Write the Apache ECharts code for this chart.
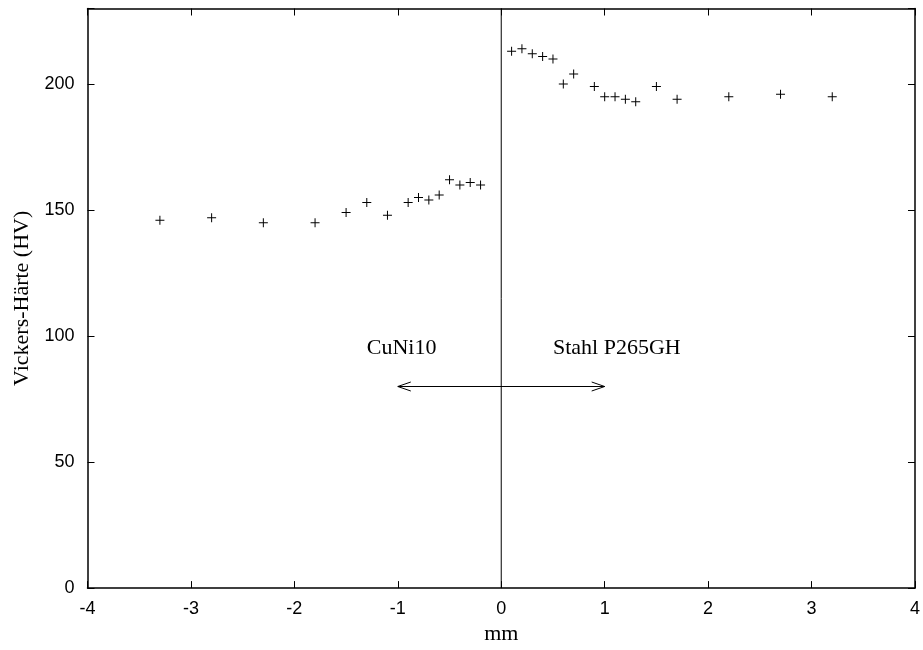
<!DOCTYPE html>
<html><head><meta charset="utf-8">
<script src="https://cdn.jsdelivr.net/npm/echarts@6/dist/echarts.min.js"></script>
<style>html,body{margin:0;padding:0;background:#fff}#c{width:923px;height:650px}</style>
</head><body><div id="c"></div>
<script>
var cuniX = [-3.3,-2.8,-2.3,-1.8,-1.5,-1.3,-1.1,-0.9,-0.8,-0.7,-0.6,-0.5,-0.4,-0.3,-0.2];
var cuniY = [146,147,145,145,149,153,148,153,155,154,156,162,160,161,160];
var stahlX = [0.1,0.2,0.3,0.4,0.5,0.6,0.7,0.9,1.0,1.1,1.2,1.3,1.5,1.7,2.2,2.7,3.2];
var stahlY = [213,214,212,211,210,200,204,199,195,195,194,193,199,194,195,196,195];
var xTicks = [-4,-3,-2,-1,0,1,2,3,4];
var yTicks = [0,50,100,150,200];
var arrowFrom = [-1,80], arrowTo = [1,80];
var labelNames = ['CuNi10','Stahl P265GH'];
var labelX = [-1.3, 0.5];
var labelY = [95, 95];

var pts = [];
cuniX.forEach(function(x,i){pts.push([x,cuniY[i]]);});
stahlX.forEach(function(x,i){pts.push([x,stahlY[i]]);});

var plus = 'path://M4,0h1v4h4v1h-4v4h-1v-4h-4v-1h4z';
var sans = 'Liberation Sans', serif = 'Liberation Serif';
var chart = echarts.init(document.getElementById('c'), null, {renderer:'canvas'});
chart.setOption({
  animation:false,
  grid:{left:87.5,right:5.5,top:8.5,bottom:57,show:false},
  xAxis:[{
    type:'value', min:-4, max:4, interval:1, position:'bottom',
    name:'mm', nameLocation:'middle', nameGap:29,
    nameTextStyle:{fontFamily:serif,fontSize:22,color:'#000'},
    axisLine:{show:true,onZero:false,lineStyle:{color:'#000',width:1.5}},
    axisTick:{show:true,inside:true,length:7,lineStyle:{color:'#000'}},
    axisLabel:{fontFamily:sans,fontSize:18,color:'#000',margin:12,
      formatter:function(v){return xTicks.indexOf(v)>=0?String(v):'';}},
    splitLine:{show:false}
  },{
    type:'value', min:-4, max:4, interval:1, position:'top',
    axisLine:{show:true,onZero:false,lineStyle:{color:'#000',width:1.5}},
    axisTick:{show:true,inside:true,length:7,lineStyle:{color:'#000'}},
    axisLabel:{show:false}, splitLine:{show:false}
  }],
  yAxis:[{
    type:'value', min:0, max:230, interval:50, position:'left',
    name:'Vickers-Härte (HV)', nameLocation:'middle', nameGap:53, nameRotate:90,
    nameTextStyle:{fontFamily:serif,fontSize:22,color:'#000'},
    axisLine:{show:true,onZero:false,lineStyle:{color:'#000',width:1.5}},
    axisTick:{show:true,inside:true,length:7,lineStyle:{color:'#000'}},
    axisLabel:{fontFamily:sans,fontSize:18,color:'#000',margin:13,
      formatter:function(v){return yTicks.indexOf(v)>=0?String(v):'';}},
    splitLine:{show:false}
  },{
    type:'value', min:0, max:230, interval:50, position:'right',
    axisLine:{show:true,onZero:false,lineStyle:{color:'#000',width:1.5}},
    axisTick:{show:true,inside:true,length:7,lineStyle:{color:'#000'}},
    axisLabel:{show:false}, splitLine:{show:false}
  }],
  series:[
    {type:'line', data:[[0,0],[0,230]], symbol:'none', lineStyle:{color:'#000',width:1}, silent:true},
    {type:'scatter', data:pts, symbol:plus, symbolSize:9, itemStyle:{color:'#000',opacity:1}},
    {type:'custom', silent:true, data:[[arrowFrom[0],arrowFrom[1],arrowTo[0],arrowTo[1]]],
      renderItem:function(params, api){
        var a = api.coord([api.value(0), api.value(1)]);
        var b = api.coord([api.value(2), api.value(3)]);
        var hl = 13, hw = 4.5;
        var st = {stroke:'#000', lineWidth:1, fill:null};
        return {type:'group', children:[
          {type:'line', shape:{x1:a[0],y1:a[1],x2:b[0],y2:b[1]}, style:st},
          {type:'polyline', shape:{points:[[a[0]+hl,a[1]-hw],[a[0],a[1]],[a[0]+hl,a[1]+hw]]}, style:st},
          {type:'polyline', shape:{points:[[b[0]-hl,b[1]-hw],[b[0],b[1]],[b[0]-hl,b[1]+hw]]}, style:st}
        ]};
      }},
    {type:'custom', silent:true, data:labelX.map(function(x,i){return [x,labelY[i]];}),
      renderItem:function(params, api){
        var p = api.coord([api.value(0), api.value(1)]);
        return {type:'text', x:p[0], y:p[1], style:{text:labelNames[params.dataIndex], fontFamily:serif, fontSize:22, fill:'#000', align:'left', verticalAlign:'middle'}};
      }}
  ]
});
</script></body></html>
